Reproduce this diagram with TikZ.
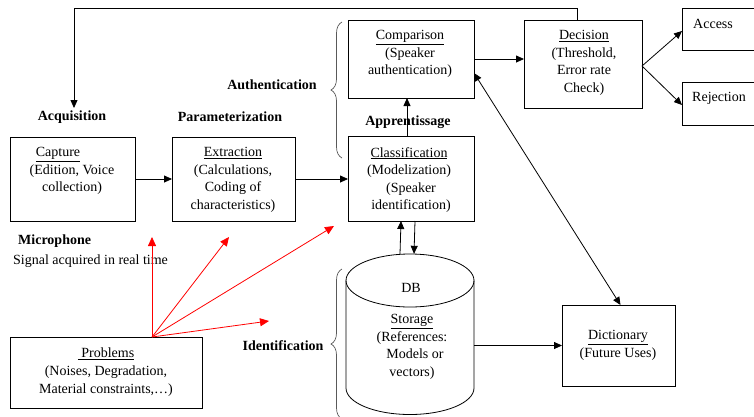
\documentclass[tikz,border=0pt]{standalone}
\usepackage{fontspec}
\setmainfont{Liberation Serif}
\usetikzlibrary{arrows.meta,decorations.pathreplacing,calc}
\begin{document}
\begin{tikzpicture}[x=1pt,y=-1pt,
  box/.style={draw, line width=0.8pt, inner sep=0, outer sep=0},
  txt/.style={font=\fontsize{14}{17.6}\selectfont, align=center, inner sep=0},
  lbl/.style={font=\fontsize{14}{17.6}\selectfont\bfseries, inner sep=0},
  arr/.style={line width=0.8pt, -{Triangle[length=8pt,width=7pt]}},
  darr/.style={line width=0.8pt, {Triangle[length=8pt,width=7pt]}-{Triangle[length=8pt,width=7pt]}},
  rarr/.style={red, line width=0.8pt, -{Triangle[length=9pt,width=8pt]}},
  brc/.style={gray!70!black, line width=0.7pt, decorate, decoration={brace, amplitude=11pt}}]
\useasboundingbox (0,0) rectangle (754,416);
\clip (0,0) rectangle (754,416);
% boxes
\node[box, minimum width=125, minimum height=84] (capture) at (72.5,179) {};
\node[box, minimum width=123, minimum height=84] (extract) at (233.5,179) {};
\node[box, minimum width=126, minimum height=85] (class) at (411,178.5) {};
\node[box, minimum width=126, minimum height=78] (comp) at (411,59) {};
\node[box, minimum width=118, minimum height=88] (decision) at (583,64) {};
\node[box, minimum width=90, minimum height=42] (access) at (727,29) {};
\node[box, minimum width=90, minimum height=43] (reject) at (727,103.5) {};
\node[box, minimum width=113, minimum height=81] (dict) at (618.5,345.5) {};
\node[box, minimum width=192, minimum height=71] (problems) at (106,372.5) {};
% database cylinder
\draw[line width=0.8pt] (410,280.5) ellipse [x radius=64, y radius=26.5];
\draw[line width=0.8pt] (346,280.5) -- (346,388) arc[start angle=180, end angle=0, x radius=64, y radius=26.5] -- (474,280.5);
\node[inner sep=0, minimum width=128, minimum height=162] (db) at (410,335) {};
% texts
\node[txt, anchor=north] (capture-t) at (72,147) {\underline{Capture}\hspace*{28pt}\\(Edition, Voice\\collection)};
\node[txt, anchor=north] (extract-t) at (233,147) {\underline{Extraction}\\(Calculations,\\Coding of\\characteristics)};
\node[txt, anchor=north] (class-t) at (409,147) {\underline{Classification}\\(Modelization)\hspace*{14pt}\\\hspace*{4pt}(Speaker\\\hspace*{4pt}identification)};
\node[txt, anchor=north] (comp-t) at (410,30) {\underline{Comparison}\\(Speaker\\authentication)};
\node[txt, anchor=north] (decision-t) at (584,30) {\underline{Decision}\\(Threshold,\\Error rate\\Check)};
\node[txt, anchor=west] (access-t) at (693,24) {Access};
\node[txt, anchor=west] (reject-t) at (692,98) {Rejection};
\node[txt] (db-t) at (411,288) {DB};
\node[txt, anchor=north] (store-t) at (412,314) {\underline{Storage}\\(References:\\\hspace*{6pt}Models or\\vectors)};
\node[txt, anchor=north] (dict-t) at (618,330) {\underline{Dictionary}\\(Future Uses)};
\node[txt, anchor=north] (prob-t) at (106,348) {\underline{\ Problems}\\(Noises, Degradation,\\Material constraints,\ldots)};
% labels
\node[lbl] (acq) at (72,117) {Acquisition};
\node[lbl] (param) at (230,117) {Parameterization};
\node[lbl] (auth) at (272,85) {Authentication};
\node[lbl] (appr) at (408,122) {Apprentissage};
\node[lbl] (ident) at (283,346) {Identification};
\node[lbl, anchor=west] (micro) at (18,241) {Microphone};
\node[txt, anchor=west] (signal) at (13,261) {Signal acquired in real time};
% braces
\draw[brc] (342,158) -- (342,22);
\draw[brc] (342,419) -- (342,269);
% connectors
\coordinate (fb) at (74,108);
\draw[arr] ([xshift=-6pt]decision.north) |- (74,8) -- (fb);
\draw[arr] (capture.east) -- (extract.west);
\draw[arr] (extract.east) -- (extract.east -| class.west);
\draw[arr] ([xshift=-4pt]class.north) -- ([xshift=-4pt]comp.south);
\draw[arr] (comp.east) -- (comp.east -| decision.west);
\draw[arr] ([yshift=-2pt]decision.east) -- ([yshift=-2pt]access.west);
\draw[arr] ([yshift=-2pt]decision.east) -- ([yshift=-1.5pt]reject.west);
\draw[arr] ([xshift=-10pt]db.north) -- ([xshift=-10pt]class.south);
\draw[arr] ([xshift=4pt]class.south) -- ([xshift=4pt]db.north);
\draw[arr] (db.east |- dict.west) -- (dict.west);
\draw[darr] ([yshift=-14pt]comp.east) -- ([xshift=2pt]dict.north);
% red arrows
\coordinate (ps) at ([xshift=46pt]problems.north);
\coordinate (r1) at (152,237);
\coordinate (r2) at (229,237);
\coordinate (r3) at (334,226);
\coordinate (r4) at (269,321);
\draw[rarr] (ps) -- (r1);
\draw[rarr] (ps) -- (r2);
\draw[rarr] (ps) -- (r3);
\draw[rarr] (ps) -- (r4);
\end{tikzpicture}
\end{document}
